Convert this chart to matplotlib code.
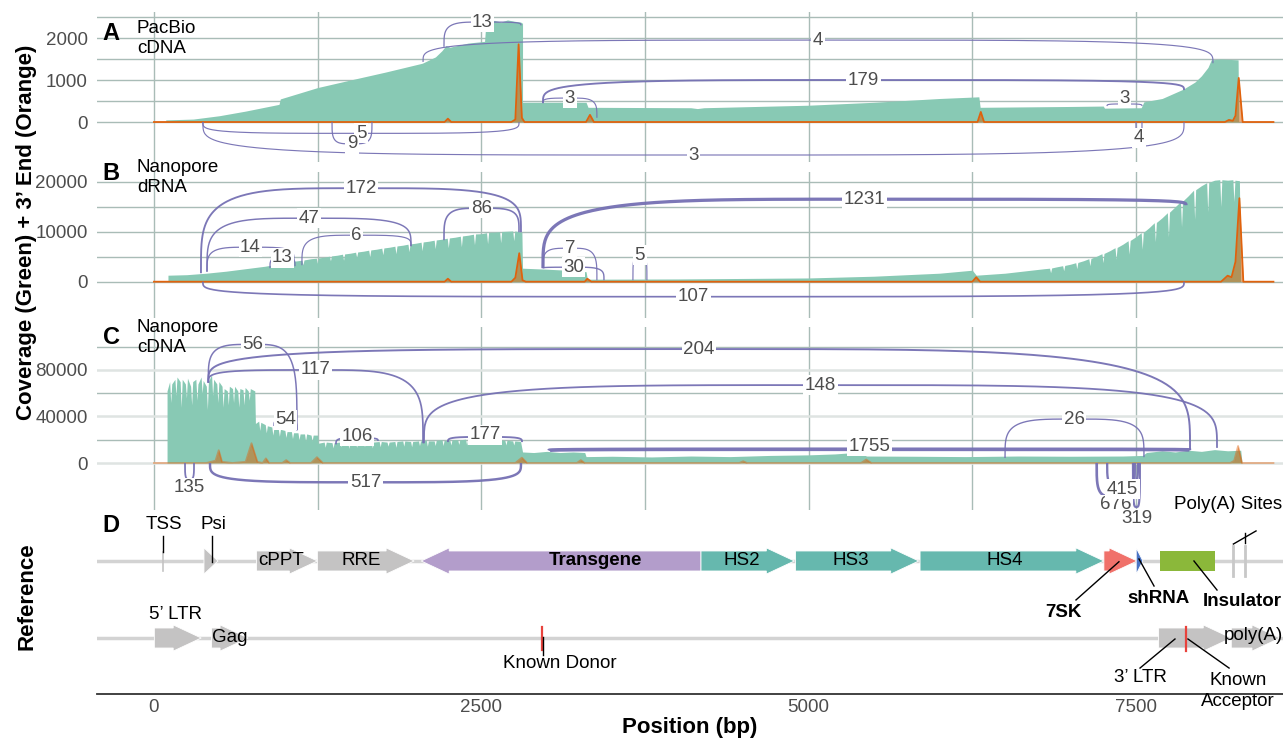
import numpy as np
import matplotlib
matplotlib.use("Agg")
import matplotlib.pyplot as plt
from matplotlib.patches import Polygon

plt.rcParams["font.family"] = ["Liberation Sans", "DejaVu Sans"]

# ---------------- coverage (green), (position bp, reads) ----------------
cov_a = [(90, 0), (90, 50), (300, 70), (500, 150), (700, 260), (955, 420), (965, 550),
         (1250, 820), (1500, 1000), (1770, 1190), (2050, 1400), (2150, 1550), (2200, 1700),
         (2230, 1820), (2260, 1780), (2400, 1880), (2525, 1920), (2535, 2350), (2600, 2420),
         (2650, 2380), (2700, 2430), (2750, 2400), (2800, 2380), (2815, 2350), (2815, 470),
         (3300, 470), (3315, 350), (4100, 340), (4150, 320), (4200, 340), (5000, 400),
         (5500, 470), (6000, 560), (6300, 600), (6310, 350), (7000, 370), (7250, 380),
         (7260, 330), (7540, 340), (7560, 480), (7700, 560), (7860, 780), (7950, 950),
         (8000, 1100), (8050, 1300), (8075, 1480), (8150, 1500), (8280, 1480), (8285, 0)]

cov_b = [(107, 0), (107, 1300), (250, 1400), (400, 1700), (550, 2100), (700, 2600),
         (850, 3100), (1000, 3800), (1040, 4000), (1048, 3000), (1056, 4050), (1100, 4200),
         (1130, 4300), (1138, 3400), (1146, 4350), (1200, 4600), (1240, 4700), (1248, 3700),
         (1256, 4750), (1300, 4900), (1340, 5100), (1348, 4200), (1356, 5150), (1400, 5300),
         (1440, 5500), (1448, 4300), (1456, 5550), (1500, 5700), (1540, 5900), (1548, 4900),
         (1556, 5950), (1600, 6100), (1640, 6300), (1648, 5000), (1656, 6350), (1700, 6500),
         (1740, 6700), (1748, 5400), (1756, 6750), (1800, 6900), (1840, 7100), (1848, 5600),
         (1856, 7150), (1900, 7300), (1940, 7500), (1948, 6000), (1956, 7550), (2000, 7700),
         (2040, 7900), (2048, 6200), (2056, 7950), (2100, 8100), (2140, 8300), (2148, 6600),
         (2156, 8350), (2200, 8500), (2240, 8700), (2248, 6800), (2256, 8750), (2300, 8900),
         (2340, 9100), (2348, 7000), (2356, 9150), (2400, 9300), (2440, 9500), (2448, 7400),
         (2456, 9550), (2500, 9600), (2540, 9800), (2548, 7600), (2556, 9850), (2600, 9900),
         (2640, 10000), (2648, 7800), (2656, 10050), (2700, 10100), (2740, 10150),
         (2748, 8200), (2756, 10150), (2810, 9900), (2815, 2700), (3000, 2500), (3150, 2300),
         (3300, 2000), (3310, 500), (4000, 550), (4500, 650), (5000, 750), (5500, 1100),
         (6000, 1700), (6250, 2300), (6280, 1300), (6500, 1700), (6800, 2600), (6840, 2700),
         (6848, 1800), (6856, 2750), (6900, 3000), (6940, 3200), (6948, 2200), (6956, 3250),
         (7000, 3500), (7040, 3800), (7048, 2600), (7056, 3850), (7100, 4200), (7140, 4600),
         (7148, 3200), (7156, 4650), (7200, 5100), (7240, 5600), (7248, 3800), (7256, 5650),
         (7300, 6200), (7340, 6800), (7348, 4500), (7356, 6850), (7400, 7500), (7440, 8200),
         (7448, 5500), (7456, 8250), (7500, 9000), (7540, 9800), (7548, 6500), (7556, 9850),
         (7600, 10800), (7640, 11800), (7648, 8000), (7656, 11850), (7700, 12800),
         (7740, 13800), (7748, 9000), (7756, 13900), (7800, 15000), (7840, 16000),
         (7848, 11000), (7856, 16100), (7900, 17200), (7940, 18300), (7948, 12500),
         (7956, 18400), (8000, 19200), (8040, 19800), (8048, 14000), (8056, 19850),
         (8100, 20300), (8140, 20400), (8148, 15000), (8156, 20400), (8200, 20300),
         (8240, 20400), (8248, 16000), (8256, 20300), (8290, 20200), (8300, 0)]

cov_c = [(100, 0), (100, 62000), (120, 70000), (128, 52000), (136, 68000), (160, 72000),
         (168, 58000), (176, 74000), (200, 70000), (208, 48000), (216, 72000), (240, 68000),
         (248, 56000), (256, 73000), (280, 66000), (288, 50000), (296, 70000), (320, 72000),
         (328, 54000), (336, 68000), (360, 74000), (368, 60000), (376, 71000), (400, 66000),
         (408, 46000), (416, 70000), (440, 76000), (448, 58000), (456, 72000), (480, 68000),
         (488, 52000), (496, 70000), (520, 66000), (528, 48000), (536, 64000), (560, 62000),
         (568, 50000), (576, 66000), (600, 64000), (608, 52000), (616, 66000), (640, 62000),
         (648, 48000), (656, 64000), (680, 63000), (688, 50000), (696, 65000), (720, 62000),
         (728, 54000), (736, 64000), (770, 62000), (775, 34000), (800, 36000), (808, 28000),
         (816, 35000), (850, 33000), (858, 26000), (866, 32000), (900, 31000), (908, 24000),
         (916, 30000), (950, 29000), (958, 23000), (966, 29000), (1000, 28000), (1008, 22000),
         (1016, 27000), (1050, 27000), (1058, 21000), (1066, 26000), (1100, 26000),
         (1108, 20000), (1116, 25000), (1150, 25000), (1158, 19000), (1166, 25000),
         (1200, 24000), (1208, 19000), (1216, 24000), (1250, 24000), (1255, 17000),
         (1300, 18000), (1308, 13500), (1316, 18000), (1360, 17500), (1368, 13000),
         (1376, 17500), (1420, 18000), (1428, 14000), (1436, 18000), (1480, 18500),
         (1488, 12500), (1496, 18000), (1540, 17500), (1548, 13500), (1556, 17500),
         (1600, 18000), (1608, 14000), (1616, 18500), (1660, 18000), (1668, 13000),
         (1676, 18000), (1720, 18500), (1728, 14000), (1736, 18500), (1780, 18000),
         (1788, 14500), (1796, 18000), (1840, 18500), (1848, 13500), (1856, 18500),
         (1900, 19000), (1908, 14500), (1916, 19000), (1960, 18500), (1968, 14000),
         (1976, 18500), (2020, 19000), (2028, 15000), (2036, 19000), (2080, 19500),
         (2088, 14500), (2096, 19000), (2140, 19000), (2148, 15000), (2156, 19500),
         (2200, 20000), (2208, 15000), (2216, 19500), (2260, 19500), (2268, 15500),
         (2276, 20000), (2320, 20000), (2328, 16000), (2336, 20000), (2380, 20500),
         (2388, 15500), (2396, 20000), (2440, 20000), (2448, 16000), (2456, 20500),
         (2500, 21000), (2508, 16500), (2516, 20500), (2560, 20000), (2568, 16000),
         (2576, 20000), (2620, 20000), (2628, 16500), (2636, 20000), (2680, 19500),
         (2688, 15500), (2696, 19500), (2740, 19000), (2748, 15500), (2756, 19000),
         (2800, 18500), (2815, 9500), (2900, 9000), (3000, 10000), (3100, 9000), (3200, 9500),
         (3290, 9000), (3300, 5500), (3500, 5800), (3800, 5200), (4100, 6000), (4400, 5500),
         (4700, 6500), (5000, 7000), (5200, 7800), (5300, 8600), (5420, 8000), (5440, 6000),
         (5800, 5800), (6200, 5500), (6600, 6000), (7000, 5800), (7400, 6000), (7550, 6500),
         (7580, 9000), (7700, 10500), (7800, 9500), (7900, 11000), (8000, 10000),
         (8100, 11500), (8200, 10500), (8300, 11000), (8310, 0)]

# ---------------- 3' ends (orange), (position bp, reads) ----------------
end_a = [(0, 0), (2220, 0), (2245, 80), (2270, 0), (2730, 0), (2760, 60), (2785, 1850),
         (2810, 100), (2830, 0), (3300, 0), (3330, 170), (3360, 0), (6290, 0), (6315, 240),
         (6340, 0), (8180, 0), (8210, 50), (8240, 30), (8260, 150), (8285, 1050), (8315, 0),
         (8550, 0)]
end_b = [(0, 0), (2220, 0), (2245, 600), (2270, 0), (2730, 0), (2760, 800), (2790, 5700),
         (2815, 300), (2840, 0), (3290, 0), (3310, 600), (3340, 0), (6250, 0), (6280, 900),
         (6310, 0), (8150, 0), (8200, 1200), (8230, 900), (8260, 4000), (8290, 16700),
         (8320, 0), (8550, 0)]
end_c = [(0, 0), (400, 0), (470, 2000), (495, 11000), (520, 1000), (600, 0), (700, 1000),
         (745, 17000), (790, 1000), (830, 0), (855, 4000), (880, 0), (980, 0), (1010, 2500),
         (1040, 0), (1200, 0), (1245, 5000), (1290, 0), (2760, 0), (2810, 4600), (2850, 0),
         (3230, 0), (3260, 2500), (3290, 0), (4470, 0), (4500, 1500), (4530, 0), (5400, 0),
         (5440, 3000), (5480, 0), (8220, 0), (8250, 2000), (8280, 14600), (8310, 0), (8550, 0)]

# ---------------- junctions: donor, acceptor, reads, y donor, y acceptor, arc top, label y
junc_a = [(2215, 2803, 13, 1790, 2300, 2380, None),
          (2055, 8088, 4, 1430, 1400, 1950, None),
          (2971, 7867, 179, 450, 760, 1000, None),
          (2971, 3383, 3, 450, 100, 570, None),
          (7279, 7546, 3, 380, 380, 430, 570),
          (374, 2788, 5, 0, 0, -270, None),
          (1360, 1665, 9, 0, 0, -520, None),
          (374, 7867, 3, 0, 0, -786, None),
          (7500, 7546, 4, 0, 0, -500, -380)]
junc_b = [(359, 2803, 172, 1700, 9900, 18700, None),
          (405, 1963, 47, 2000, 7100, 12700, None),
          (405, 1069, 14, 2000, 4300, 6900, None),
          (886, 1077, 13, 2700, 3100, 4800, None),
          (1130, 1963, 6, 3300, 7100, 9300, None),
          (2215, 2788, 86, 8300, 9900, 14700, None),
          (2971, 7882, 1231, 2700, 15300, 16500, None),
          (2971, 3383, 7, 2700, 300, 6700, None),
          (2971, 3437, 30, 2700, 300, 2900, None),
          (3658, 3765, 5, 300, 300, 5300, None),
          (374, 7867, 107, 0, 0, -3000, None)]
junc_c = [(415, 1092, 56, 69000, 28000, 102000, None),
          (415, 7913, 204, 69000, 11000, 98000, None),
          (415, 2055, 117, 69000, 17000, 80000, None),
          (2062, 8119, 148, 17000, 13000, 67000, None),
          (917, 1092, 54, 31800, 28400, 37000, None),
          (1390, 1711, 106, 16000, 19000, 21500, 23000),
          (2245, 2811, 177, 18000, 18000, 22400, 24500),
          (3017, 7913, 1755, 10600, 11000, 11800, 14500),
          (6500, 7561, 26, 4300, 5000, 37800, None),
          (428, 2803, 517, 0, 0, -16600, None),
          (237, 306, 135, 0, 0, -14000, -21500),
          (7200, 7490, 676, 0, 0, -29000, -36000),
          (7280, 7515, 415, 0, 0, -20600, -22400),
          (7477, 7530, 319, 0, 0, -37800, -48000)]

# ---------------- reference annotation ----------------
feat_name = ["Psi", "cPPT", "RRE", "Transgene", "HS2", "HS3", "HS4", "7SK", "shRNA",
             "5' LTR", "Gag", "3' LTR", "poly(A)"]
feat_start = [382, 783, 1248, 2041, 4178, 4900, 5851, 7255, 7502, 3, 440, 7673, 8228]
feat_end = [489, 1248, 1987, 4178, 4891, 5841, 7255, 7509, 7553, 361, 719, 8228, 8600]
feat_strand = [1, 1, 1, -1, 1, 1, 1, 1, 1, 1, 1, 1, 1]
feat_track = [2, 2, 2, 2, 2, 2, 2, 2, 2, 1, 1, 1, 1]
feat_color = ["#c4c3c3", "#c4c3c3", "#c4c3c3", "#b39dcb", "#66b8ae", "#66b8ae", "#66b8ae",
              "#f0716a", "#4a74c4", "#c4c3c3", "#c4c3c3", "#c4c3c3", "#c4c3c3"]
insulator = (7683, 8107)
tss = 66
polya_sites = [8244, 8333]
known_donor = 2966
known_acceptor = 7879

GREEN = "#88c9b4"
ORANGE = "#d95f02"
PURPLE = "#7570b3"
GRID = "#a9bcb7"
TXT = "#4d4d4d"
FS = 13.5

W, H = 1283, 738
fig = plt.figure(figsize=(W / 100, H / 100), dpi=100)
left = 97 / W
xlim = (-435, 8623)


def panel(top, bottom):
    return fig.add_axes([left, 1 - bottom / H, 1 - left, (bottom - top) / H])


def arc_path(x1, x2, y1, y2, top, n=4):
    xm = (x1 + x2) / 2
    t = np.linspace(0, np.pi / 2, 80)
    c = np.cos(t) ** (2 / n)
    s = np.sin(t) ** (2 / n)
    xs = np.concatenate([xm - (xm - x1) * c, (xm + (x2 - xm) * c)[::-1]])
    ys = np.concatenate([y1 + (top - y1) * s, (y2 + (top - y2) * s)[::-1]])
    return xs, ys


def sashimi(ax, cov, ends, juncs, ylim, majors, minors, end_line_alpha=1.0, light_major=False):
    ax.set_xlim(*xlim)
    ax.set_ylim(*ylim)
    p = np.array(cov, dtype=float)
    ax.fill_between(p[:, 0], 0, p[:, 1], color=GREEN, lw=0, zorder=2)
    e = np.array(ends, dtype=float)
    ax.fill_between(e[:, 0], 0, e[:, 1], color=ORANGE, alpha=0.5, lw=0, zorder=3)
    ax.plot(e[:, 0], e[:, 1], color="#e0620d", lw=1.3, alpha=end_line_alpha, zorder=3)
    for x1, x2, n, y1, y2, top, ly in juncs:
        xs, ys = arc_path(x1, x2, y1, y2, top)
        ax.plot(xs, ys, color=PURPLE, lw=0.75 + 0.045 * np.sqrt(n), alpha=0.95,
                zorder=4, clip_on=False, solid_capstyle="butt")
        ax.text((x1 + x2) / 2, top if ly is None else ly, str(n), ha="center", va="center",
                fontsize=FS, color=TXT, zorder=5,
                bbox=dict(boxstyle="square,pad=0.08", fc="white", ec="none"))
    ax.set_xticks([0, 2500, 5000, 7500])
    ax.set_xticks([1250, 3750, 6250], minor=True)
    ax.set_yticks(majors)
    ax.set_yticklabels([str(v) for v in majors])
    ax.set_yticks(minors, minor=True)
    ax.tick_params(axis="both", which="both", length=0, labelbottom=False,
                   labelsize=FS, labelcolor=TXT, pad=6.5)
    ax.grid(which="both", color=GRID, lw=1.0)
    if light_major:
        ax.grid(which="major", axis="y", color="#dfe4e2", lw=1.8)
    ax.set_axisbelow(True)
    for s in ax.spines.values():
        s.set_visible(False)


ax_a = panel(12, 162)
sashimi(ax_a, cov_a, end_a, junc_a, (-952, 2619), [0, 1000, 2000], [500, 1500, 2500])
ax_b = panel(172, 318)
sashimi(ax_b, cov_b, end_b, junc_b, (-7260, 21940), [0, 10000, 20000], [5000, 15000])
ax_c = panel(327, 510)
sashimi(ax_c, cov_c, end_c, junc_c, (-40420, 116960), [0, 40000, 80000],
        [20000, 60000, 100000], end_line_alpha=0.45, light_major=True)

# ---------------- panel D ----------------
ax_d = panel(513, 694)
ax_d.patch.set_visible(False)
ax_d.set_xlim(*xlim)
ax_d.set_ylim(0.273, 2.623)
for s in ["top", "left", "right"]:
    ax_d.spines[s].set_visible(False)
ax_d.spines["bottom"].set_color("#333333")
ax_d.spines["bottom"].set_linewidth(1.3)
ax_d.set_yticks([])
ax_d.set_xticks([0, 2500, 5000, 7500])
ax_d.set_xticklabels(["0", "2500", "5000", "7500"])
ax_d.tick_params(axis="x", length=0, labelsize=FS, labelcolor=TXT, pad=3.5)

for yt in [2, 1]:
    ax_d.plot([xlim[0], xlim[1]], [yt, yt], color="#d3d3d3", lw=2.5, zorder=1)

HL, BH, AH = 214, 0.13, 0.17


def gene_arrow(x1, x2, yc, strand, color):
    tip, base, d = (x2, x1, 1) if strand > 0 else (x1, x2, -1)
    if abs(x2 - x1) <= HL:
        pts = [(base, yc - AH), (tip, yc), (base, yc + AH)]
    else:
        neck = tip - d * HL
        pts = [(base, yc - BH), (neck, yc - BH), (neck, yc - AH), (tip, yc),
               (neck, yc + AH), (neck, yc + BH), (base, yc + BH)]
    ax_d.add_patch(Polygon(pts, closed=True, fc=color, ec="white", lw=0.6, zorder=3))


for i in range(len(feat_name)):
    gene_arrow(feat_start[i], feat_end[i], feat_track[i], feat_strand[i], feat_color[i])
ax_d.add_patch(plt.Rectangle((insulator[0], 2 - BH), insulator[1] - insulator[0], 2 * BH,
                             fc="#8bb83a", ec="none", zorder=3))
ax_d.plot([tss, tss], [2 - BH, 2 + 0.12], color="#c4c3c3", lw=1.2, zorder=2)
for ps in polya_sites:
    ax_d.plot([ps, ps], [2 - 0.2, 2 + 0.2], color="#c8c8c8", lw=2, zorder=2)
ax_d.plot([known_donor, known_donor], [0.844, 1.143], color="#e8423c", lw=1.6, zorder=4)
ax_d.plot([known_acceptor, known_acceptor], [0.831, 1.143], color="#e8423c", lw=1.6, zorder=4)

# labels inside features
inside = [(970, 2, "cPPT", "normal"), (1581, 2, "RRE", "normal"), (3368, 2, "Transgene", "bold"),
          (4491, 2, "HS2", "normal"), (5323, 2, "HS3", "normal"), (6500, 2, "HS4", "normal"),
          (580, 1.01, "Gag", "normal"), (8400, 1.03, "poly(A)", "normal")]
for x, y, t, w in inside:
    ax_d.text(x, y, t, ha="center", va="center", fontsize=FS, fontweight=w, zorder=5)

# callouts: text position, text, weight, leader line
callouts = [((76, 2.468), "TSS", "normal", [(66, 2.325), (66, 2.117)]),
            ((458, 2.468), "Psi", "normal", [(443, 2.325), (443, 1.99)]),
            ((6943, 1.325), "7SK", "bold", [(7042, 1.494), (7370, 1.99)]),
            ((7676, 1.519), "shRNA", "bold", [(7638, 1.675), (7523, 2.026)]),
            ((8310, 1.468), "Insulator", "bold", [(8119, 1.623), (7943, 2.0)]),
            ((8200, 2.727), "Poly(A) Sites", "normal", [(8417, 2.39), (8244, 2.22)]),
            ((168, 1.299), "5\u2019 LTR", "normal", None),
            ((3101, 0.675), "Known Donor", "normal", [(2971, 1.013), (2971, 0.779)]),
            ((7531, 0.481), "3\u2019 LTR", "normal", [(7531, 0.61), (7798, 0.987)]),
            ((8279, 0.312), "Known\nAcceptor", "normal", [(8211, 0.61), (7897, 0.987)])]
for (tx, ty), t, w, leader in callouts:
    ax_d.text(tx, ty, t, ha="center", va="center", fontsize=FS, fontweight=w,
              linespacing=1.25, zorder=5, clip_on=False)
    if leader is not None:
        (lx1, ly1), (lx2, ly2) = leader
        ax_d.plot([lx1, lx2], [ly1, ly2], color="black", lw=1, zorder=5, clip_on=False)
ax_d.plot([8333, 8333], [2.364, 2.234], color="black", lw=1, zorder=5, clip_on=False)

# ---------------- panel letters and titles ----------------
for ytop, letter, desc, ydesc in [(33, "A", "PacBio\ncDNA", 20), (174, "B", "Nanopore\ndRNA", 159),
                                   (338, "C", "Nanopore\ncDNA", 319), (525, "D", "", 0)]:
    fig.text(111 / W, 1 - ytop / H, letter, fontsize=17, fontweight="bold",
             ha="center", va="center")
    if desc:
        fig.text(137 / W, 1 - ydesc / H, desc, fontsize=FS, ha="left", va="top",
                 linespacing=1.2)

fig.text(27 / W, 1 - 232 / H, "Coverage (Green) + 3\u2019 End (Orange)", rotation=90,
         fontsize=16, fontweight="bold", ha="center", va="center")
fig.text(27 / W, 1 - 596 / H, "Reference", rotation=90, fontsize=16, fontweight="bold",
         ha="center", va="center")
fig.text(690 / W, 1 - 727 / H, "Position (bp)", fontsize=16, fontweight="bold",
         ha="center", va="center")

fig.savefig("out.png", dpi=100)
